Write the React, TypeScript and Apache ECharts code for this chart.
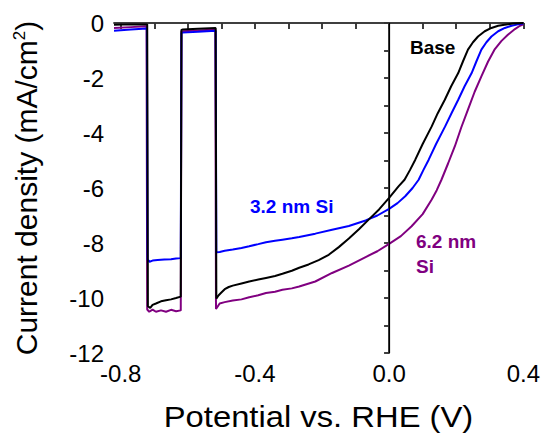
import React, { useEffect, useRef } from "react";
import * as echarts from "echarts";

const FONT = "'Liberation Sans', Arial, Helvetica, sans-serif";

// Potential (V vs RHE) and current density (mA/cm2) pairs
const basePoints: [number, number][] = [
  [-0.82, -0.06], [-0.77, -0.05], [-0.721, -0.05], [-0.719, -10.3], [-0.712, -10.36], [-0.705, -10.25],
  [-0.695, -10.2], [-0.68, -10.12], [-0.665, -10.08], [-0.65, -10.05], [-0.635, -10.0], [-0.621, -9.95],
  [-0.619, -0.25], [-0.615, -0.24], [-0.57, -0.21], [-0.517, -0.18], [-0.515, -10.02], [-0.508, -9.9],
  [-0.5, -9.8], [-0.49, -9.68], [-0.478, -9.6], [-0.466, -9.55], [-0.44, -9.47], [-0.417, -9.4],
  [-0.39, -9.33], [-0.367, -9.27], [-0.34, -9.2], [-0.318, -9.12], [-0.29, -9.01], [-0.268, -8.9],
  [-0.24, -8.78], [-0.21, -8.62], [-0.18, -8.43], [-0.15, -8.15], [-0.12, -7.84], [-0.09, -7.5],
  [-0.061, -7.15], [-0.03, -6.78], [0, -6.36], [0.028, -5.94], [0.046, -5.7], [0.062, -5.35],
  [0.078, -4.97], [0.1, -4.4], [0.127, -3.76], [0.145, -3.28], [0.166, -2.79], [0.185, -2.3],
  [0.206, -1.82], [0.22, -1.4], [0.235, -0.97], [0.25, -0.7], [0.265, -0.49], [0.285, -0.3],
  [0.305, -0.18], [0.325, -0.1], [0.344, -0.06], [0.37, -0.02], [0.4, 0],
];

const si32Points: [number, number][] = [
  [-0.82, -0.28], [-0.77, -0.24], [-0.722, -0.2], [-0.72, -8.6], [-0.714, -8.68], [-0.705, -8.64],
  [-0.69, -8.62], [-0.67, -8.6], [-0.65, -8.59], [-0.635, -8.56], [-0.621, -8.55], [-0.619, -0.36],
  [-0.615, -0.35], [-0.57, -0.32], [-0.517, -0.28], [-0.515, -8.34], [-0.505, -8.33], [-0.49, -8.28],
  [-0.466, -8.24], [-0.44, -8.18], [-0.417, -8.12], [-0.39, -8.04], [-0.367, -7.97], [-0.34, -7.92],
  [-0.318, -7.88], [-0.29, -7.83], [-0.268, -7.78], [-0.22, -7.66], [-0.17, -7.52], [-0.12, -7.38],
  [-0.07, -7.18], [-0.035, -7.0], [0, -6.76], [0.025, -6.55], [0.048, -6.3], [0.07, -6.0],
  [0.088, -5.7], [0.102, -5.35], [0.118, -4.97], [0.14, -4.4], [0.167, -3.76], [0.186, -3.28],
  [0.206, -2.79], [0.225, -2.3], [0.246, -1.82], [0.26, -1.4], [0.275, -0.97], [0.29, -0.7],
  [0.305, -0.49], [0.325, -0.3], [0.345, -0.18], [0.365, -0.1], [0.384, -0.05], [0.4, -0.02],
];

const si62Points: [number, number][] = [
  [-0.82, -0.18], [-0.77, -0.15], [-0.723, -0.12], [-0.721, -10.42], [-0.715, -10.5], [-0.705, -10.42],
  [-0.695, -10.5], [-0.68, -10.45], [-0.665, -10.5], [-0.65, -10.43], [-0.635, -10.48], [-0.621, -10.45],
  [-0.619, -0.3], [-0.615, -0.3], [-0.57, -0.27], [-0.518, -0.24], [-0.516, -10.4], [-0.505, -10.2],
  [-0.49, -10.15], [-0.466, -10.09], [-0.44, -10.05], [-0.417, -9.97], [-0.39, -9.9], [-0.367, -9.82],
  [-0.34, -9.77], [-0.318, -9.7], [-0.29, -9.65], [-0.268, -9.58], [-0.22, -9.4], [-0.17, -9.09],
  [-0.12, -8.82], [-0.07, -8.51], [-0.035, -8.3], [0, -8.03], [0.035, -7.75], [0.067, -7.39],
  [0.1, -6.95], [0.127, -6.42], [0.142, -6.08], [0.156, -5.7], [0.176, -5.1], [0.196, -4.48],
  [0.215, -3.8], [0.235, -3.15], [0.255, -2.5], [0.275, -1.94], [0.295, -1.4], [0.314, -0.97],
  [0.335, -0.65], [0.354, -0.43], [0.375, -0.22], [0.39, -0.1], [0.4, -0.05],
];

const xLabelValues = [-0.8, -0.4, 0, 0.4];
const xTickValues = [-0.8, -0.7, -0.6, -0.5, -0.4, -0.3, -0.2, -0.1, 0, 0.1, 0.2, 0.3, 0.4];
const yTickValues = [-12, -11, -10, -9, -8, -7, -6, -5, -4, -3, -2, -1, 0];

const seriesNames = ["6.2 nm Si", "3.2 nm Si", "Base"];
const seriesColors = ["#800080", "#0000ff", "#000000"];

const AXIS_COLOR = "#333";

export default function App() {
  const ref = useRef<HTMLDivElement>(null);
  useEffect(() => {
    const chart = echarts.init(ref.current!, null, { renderer: "svg" });
    const axisLine = { show: true, lineStyle: { color: AXIS_COLOR, width: 1.5 } };
    const tickStyle = { color: AXIS_COLOR, width: 1.5 };
    const dataSets = [si62Points, si32Points, basePoints];
    chart.setOption({
      animation: false,
      backgroundColor: "#fff",
      grid: { left: 114, right: 18, top: 23, bottom: 84 },
      xAxis: [
        {
          type: "value", position: "bottom", min: -0.82, max: 0.4,
          axisLine, splitLine: { show: false },
          axisTick: { show: true, inside: false, length: 6, customValues: xTickValues, lineStyle: tickStyle },
          axisLabel: {
            customValues: xLabelValues, formatter: (v: number) => v.toFixed(1),
            fontSize: 24, color: "#000", margin: 8, fontFamily: FONT,
          },
        },
        {
          type: "value", position: "top", min: -0.82, max: 0.4,
          axisLine, splitLine: { show: false },
          axisTick: { show: true, inside: true, length: 6, customValues: xTickValues, lineStyle: tickStyle },
          axisLabel: { show: false },
        },
      ],
      yAxis: [
        {
          type: "value", position: "left", min: -12, max: 0, interval: 2,
          axisLine, splitLine: { show: false },
          axisTick: { show: true, inside: false, length: 5, customValues: yTickValues, lineStyle: tickStyle },
          axisLabel: { fontSize: 24, color: "#000", margin: 10, fontFamily: FONT },
          name: "Current density (mA/cm{sup|2})", nameLocation: "middle", nameRotate: 90, nameGap: 73,
          nameTextStyle: {
            fontSize: 30, color: "#000", fontFamily: FONT,
            rich: { sup: { fontSize: 17, color: "#000", fontFamily: FONT, verticalAlign: "top" } },
          },
        },
        {
          type: "value", position: "right", min: -12, max: 0, interval: 2,
          axisLine, splitLine: { show: false },
          axisTick: { show: true, inside: true, length: 5, customValues: yTickValues, lineStyle: tickStyle },
          axisLabel: { show: false },
        },
      ],
      series: dataSets.map((d, i) => ({
        name: seriesNames[i],
        type: "line",
        xAxisIndex: 0,
        yAxisIndex: 0,
        data: d,
        showSymbol: false,
        symbol: "none",
        lineStyle: { color: seriesColors[i], width: 2 },
        itemStyle: { color: seriesColors[i] },
        z: 3 + i,
        ...(i === 2
          ? {
              markLine: {
                silent: true, symbol: "none", label: { show: false },
                lineStyle: { color: "#000", width: 1.2, type: "solid" },
                data: [{ xAxis: 0 }],
              },
            }
          : {}),
      })),
      graphic: [
        { type: "text", x: 318.5, y: 403, scaleX: 1.13, style: { text: "Potential vs. RHE (V)", fill: "#000", fontSize: 29, fontFamily: FONT, align: "center", verticalAlign: "top" } },
        { type: "text", x: 410, y: 47, style: { text: "Base", fill: "#000", fontSize: 19, fontWeight: "bold", fontFamily: FONT, align: "left", verticalAlign: "middle" } },
        { type: "text", x: 250, y: 206, style: { text: "3.2 nm Si", fill: "#0000ff", fontSize: 19, fontWeight: "bold", fontFamily: FONT, align: "left", verticalAlign: "middle" } },
        { type: "text", x: 416, y: 241.5, style: { text: "6.2 nm", fill: "#800080", fontSize: 19, fontWeight: "bold", fontFamily: FONT, align: "left", verticalAlign: "middle" } },
        { type: "text", x: 416, y: 266, style: { text: "Si", fill: "#800080", fontSize: 19, fontWeight: "bold", fontFamily: FONT, align: "left", verticalAlign: "middle" } },
      ],
    });
    return () => chart.dispose();
  }, []);
  return (
    <div
      ref={ref}
      style={{ position: "absolute", left: 0, top: 0, width: 543, height: 437, background: "#fff" }}
    />
  );
}
